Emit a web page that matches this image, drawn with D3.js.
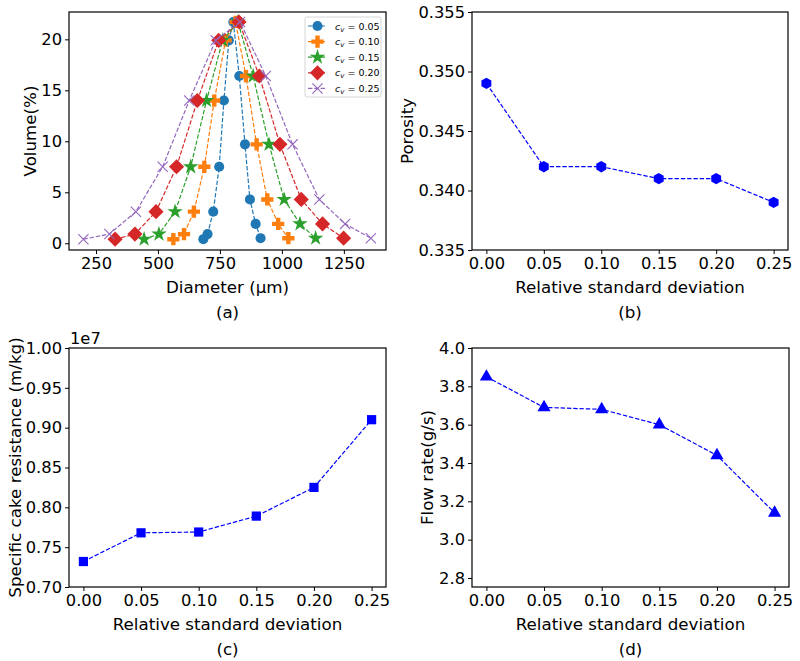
<!DOCTYPE html>
<html><head><meta charset="utf-8">
<script src="https://cdn.jsdelivr.net/npm/d3@7"></script>
<style>body{margin:0;background:#fff}svg{display:block;font-family:"DejaVu Sans",sans-serif}</style>
</head><body><svg id="c" width="800" height="661"></svg>
<script>
// ---- data ----
const volume = [0.4, 0.9, 3.1, 7.5, 14.0, 19.9, 21.7, 16.4, 9.7, 4.3, 1.9, 0.5];
const diamCv005 = [683, 700, 723, 747, 766, 786, 804, 828, 851, 871, 894, 914];
const diamCv010 = [562, 605, 645, 687, 727, 773, 813, 855, 898, 941, 985, 1026];
const diamCv015 = [444, 504, 569, 632, 696, 761, 823, 884, 948, 1009, 1073, 1136];
const diamCv020 = [327, 407, 492, 575, 659, 745, 827, 909, 992, 1078, 1164, 1249];
const diamCv025 = [199, 304, 411, 519, 626, 733, 831, 935, 1043, 1151, 1255, 1359];
const cvLabels = ["0.05", "0.10", "0.15", "0.20", "0.25"];
const rsd = [0.00, 0.05, 0.10, 0.15, 0.20, 0.25];
const porosity = [0.349, 0.342, 0.342, 0.341, 0.341, 0.339];
const cakeResistance = [0.732, 0.768, 0.769, 0.789, 0.825, 0.910]; // x1e7 m/kg
const flowRate = [3.85, 3.69, 3.68, 3.60, 3.44, 3.14];
const diamTicks = [250, 500, 750, 1000, 1250];
const volTicks = [0, 5, 10, 15, 20];
const rsdTicks = [0, 0.05, 0.10, 0.15, 0.20, 0.25];
const porTicks = [0.335, 0.340, 0.345, 0.350, 0.355];
const resTicks = [0.70, 0.75, 0.80, 0.85, 0.90, 0.95, 1.00];
const flowTicks = [2.8, 3.0, 3.2, 3.4, 3.6, 3.8, 4.0];

const svg = d3.select("#c");
const TFS = 16.3, LFS = 16.7;

const hexagon = { draw(ctx, size) {
  const r = Math.sqrt(size / (1.5 * Math.sqrt(3)));
  for (let i = 0; i < 6; i++) {
    const a = i * Math.PI / 3;
    const x = r * Math.sin(a), y = -r * Math.cos(a);
    if (i === 0) ctx.moveTo(x, y); else ctx.lineTo(x, y);
  }
  ctx.closePath();
}};
const square45 = { draw(ctx, size) {
  const h = Math.sqrt(size) / Math.SQRT2;
  ctx.moveTo(0, -h); ctx.lineTo(h, 0); ctx.lineTo(0, h); ctx.lineTo(-h, 0); ctx.closePath();
}};
const fatPlus = { draw(ctx, size) {
  const s = Math.sqrt(size) / 2, t = s * 0.36;
  ctx.moveTo(-t, -s); ctx.lineTo(t, -s); ctx.lineTo(t, -t); ctx.lineTo(s, -t); ctx.lineTo(s, t);
  ctx.lineTo(t, t); ctx.lineTo(t, s); ctx.lineTo(-t, s); ctx.lineTo(-t, t); ctx.lineTo(-s, t);
  ctx.lineTo(-s, -t); ctx.lineTo(-t, -t); ctx.closePath();
}};

function panel(o) {
  const g = svg.append("g");
  const x = d3.scaleLinear().domain(o.xd).range([o.l, o.r]);
  const y = d3.scaleLinear().domain(o.yd).range([o.b, o.t]);
  const xa = g.append("g").attr("transform", `translate(0,${o.b})`)
    .call(d3.axisBottom(x).tickValues(o.xt).tickFormat(o.xf).tickSizeOuter(0).tickSize(4).tickPadding(3));
  const ya = g.append("g").attr("transform", `translate(${o.l},0)`)
    .call(d3.axisLeft(y).tickValues(o.yt).tickFormat(o.yf).tickSizeOuter(0).tickSize(4).tickPadding(3));
  [xa, ya].forEach(a => {
    a.select(".domain").remove();
    a.selectAll("line").attr("stroke", "#000").attr("stroke-width", 1);
    a.selectAll("text").attr("font-size", TFS).attr("fill", "#000").attr("font-family", "DejaVu Sans");
  });
  g.append("rect").attr("x", o.l).attr("y", o.t).attr("width", o.r - o.l).attr("height", o.b - o.t)
    .attr("fill", "none").attr("stroke", "#000").attr("stroke-width", 1.2);
  g.append("text").attr("x", (o.l + o.r) / 2).attr("y", o.b + 43).attr("text-anchor", "middle")
    .attr("font-size", LFS).text(o.xl);
  g.append("text").attr("transform", `translate(${o.ylx},${(o.t + o.b) / 2}) rotate(-90)`)
    .attr("text-anchor", "middle").attr("dy", "0.35em").attr("font-size", LFS).text(o.yl);
  g.append("text").attr("x", (o.l + o.r) / 2).attr("y", o.b + 68).attr("text-anchor", "middle")
    .attr("font-size", LFS).text(o.cap);
  const clip = g.append("g");
  return { g: clip, x, y };
}

// ---- panel (a) ----
const A = panel({ l: 69, r: 386, t: 12, b: 250, xd: [141, 1420], yd: [-0.66, 22.68],
  xt: diamTicks, yt: volTicks, xf: d3.format("d"), yf: d3.format("d"),
  xl: "Diameter (μm)", yl: "Volume(%)", ylx: 30, cap: "(a)" });
const seriesA = [
  { d: diamCv005, c: "#1f77b4", sym: d3.symbolCircle, size: 80, fill: true },
  { d: diamCv010, c: "#ff7f0e", sym: fatPlus, size: 150, fill: true },
  { d: diamCv015, c: "#2ca02c", sym: d3.symbolStar, size: 75, fill: true },
  { d: diamCv020, c: "#d62728", sym: square45, size: 115, fill: true },
  { d: diamCv025, c: "#9467bd", sym: d3.symbolTimes, size: 70, fill: false }
];
const lineA = d3.line().x(p => A.x(p[0])).y(p => A.y(p[1]));
seriesA.forEach(s => {
  const pts = s.d.map((v, i) => [v, volume[i]]);
  A.g.append("path").attr("d", lineA(pts)).attr("fill", "none").attr("stroke", s.c)
    .attr("stroke-width", 1.2).attr("stroke-dasharray", "4.4,1.9");
  A.g.selectAll(null).data(pts).join("path")
    .attr("transform", p => `translate(${A.x(p[0])},${A.y(p[1])})`)
    .attr("d", d3.symbol(s.sym, s.size)())
    .attr("fill", s.fill ? s.c : "none").attr("stroke", s.c).attr("stroke-width", s.fill ? 0 : 1.1);
});
// legend
const lg = svg.append("g");
lg.append("rect").attr("x", 305).attr("y", 17).attr("width", 76).attr("height", 80).attr("rx", 2)
  .attr("fill", "#fff").attr("fill-opacity", 0.8).attr("stroke", "#ccc").attr("stroke-width", 0.8);
seriesA.forEach((s, i) => {
  const yy = 26 + i * 15.6;
  lg.append("line").attr("x1", 308).attr("x2", 327).attr("y1", yy).attr("y2", yy)
    .attr("stroke", s.c).attr("stroke-width", 1.2).attr("stroke-dasharray", "4.4,1.9");
  lg.append("path").attr("transform", `translate(317.5,${yy})`).attr("d", d3.symbol(s.sym, s.size)())
    .attr("fill", s.fill ? s.c : "none").attr("stroke", s.c).attr("stroke-width", s.fill ? 0 : 1.1);
  const t = lg.append("text").attr("x", 335).attr("y", yy + 3.5).attr("font-size", 9.5);
  t.append("tspan").attr("font-style", "italic").text("c");
  t.append("tspan").attr("font-style", "italic").attr("font-size", 7).attr("dy", 2).text("v");
  t.append("tspan").attr("dy", -2).text(" = " + cvLabels[i]);
});

// ---- panels (b)-(d) ----
function simple(o, vals, sym, size) {
  const P = panel(o);
  const pts = rsd.map((v, i) => [v, vals[i]]);
  P.g.append("path").attr("d", d3.line().x(p => P.x(p[0])).y(p => P.y(p[1]))(pts))
    .attr("fill", "none").attr("stroke", "#0000ff").attr("stroke-width", 1.2).attr("stroke-dasharray", "4.4,1.9");
  P.g.selectAll(null).data(pts).join("path")
    .attr("transform", p => `translate(${P.x(p[0])},${P.y(p[1])})`)
    .attr("d", d3.symbol(sym, size)()).attr("fill", "#0000ff");
  return P;
}
const rsdFmt = d3.format(".2f");
simple({ l: 472, r: 788, t: 12, b: 250, xd: [-0.0125, 0.2625], yd: [0.335, 0.355],
  xt: rsdTicks, yt: porTicks, xf: rsdFmt, yf: d3.format(".3f"),
  xl: "Relative standard deviation", yl: "Porosity", ylx: 407, cap: "(b)" }, porosity, hexagon, 85);
simple({ l: 69, r: 386, t: 348, b: 587, xd: [-0.0125, 0.2625], yd: [0.70, 1.00],
  xt: rsdTicks, yt: resTicks, xf: rsdFmt, yf: d3.format(".2f"),
  xl: "Relative standard deviation", yl: "Specific cake resistance (m/kg)", ylx: 15, cap: "(c)" }, cakeResistance, d3.symbolSquare, 85);
svg.append("text").attr("x", 70).attr("y", 344).attr("font-size", TFS).text("1e7");
simple({ l: 472, r: 789, t: 348, b: 587, xd: [-0.0125, 0.2625], yd: [2.753, 4.0],
  xt: rsdTicks, yt: flowTicks, xf: rsdFmt, yf: d3.format(".1f"),
  xl: "Relative standard deviation", yl: "Flow rate(g/s)", ylx: 427, cap: "(d)" }, flowRate, d3.symbolTriangle, 75);
</script></body></html>
